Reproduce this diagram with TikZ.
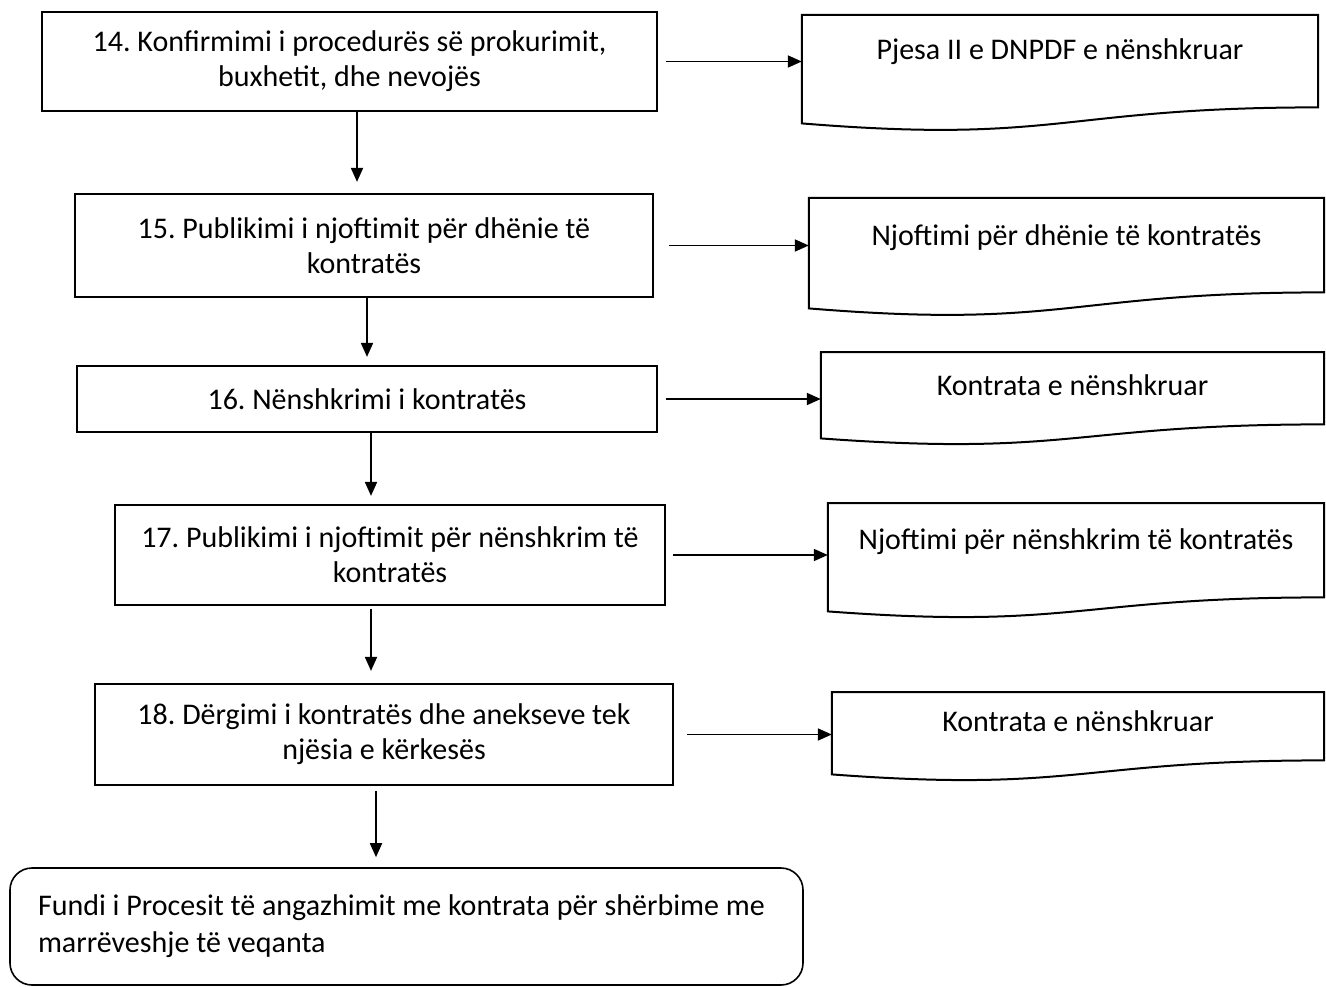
\documentclass[tikz,border=0pt]{standalone}
\usepackage{fontspec}
\setmainfont{Carlito}
\usetikzlibrary{arrows.meta,calc}

% outline of a document symbol around node #1; #2 = rise of the right end of the wavy base
\newcommand\docoutline[2]{%
  \draw[docline] (#1.north west) -- (#1.north east)
    -- ($(#1.south east)+(0,-#2)$)
    .. controls ($(#1.south)+(0,-#2)$) and ($(#1.south)+(0,1.316*#2)$) .. (#1.south west)
    -- cycle;}

\begin{document}
\frenchspacing
\begin{tikzpicture}[x=1pt,y=-1pt,
  every node/.style={font=\fontsize{30}{35}\selectfont, inner sep=0pt},
  stepbox/.style={draw, line width=2.2pt, align=center},
  docline/.style={line width=2pt, line join=miter},
  arr/.style={line width=1.8pt, -{Triangle[length=14pt,width=12pt]}},
  endbox/.style={draw, line width=1.6pt, rounded corners=22pt, align=flush left,
                 text width=737pt, inner xsep=28pt, font=\fontsize{30}{37}\selectfont}]
\useasboundingbox (0,0) rectangle (1326,987);

% process steps
\node[stepbox, minimum width=615pt, minimum height=99pt] (b14) at (349.5,61.5)
  {14. Konfirmimi i procedurës së prokurimit,\\ buxhetit, dhe nevojës};
\node[stepbox, minimum width=578pt, minimum height=103pt] (b15) at (364,245.5)
  {15. Publikimi i njoftimit për dhënie të\\ kontratës};
\node[stepbox, minimum width=580pt, minimum height=66pt] (b16) at (367,399)
  {16. Nënshkrimi i kontratës};
\node[stepbox, minimum width=550pt, minimum height=100pt] (b17) at (390,555)
  {17. Publikimi i njoftimit për nënshkrim të\\ kontratës};
\node[stepbox, minimum width=578pt, minimum height=101pt] (b18) at (384,734.5)
  {18. Dërgimi i kontratës dhe anekseve tek\\ njësia e kërkesës};
\node[endbox, minimum height=117pt] (end) at (406.5,926.5)
  {Fundi i Procesit të angazhimit me kontrata për shërbime me\\ marrëveshje të veqanta};

% output documents (text sits near the top edge)
\node[minimum width=516pt, text height=44pt, text depth=64pt] (d1) at (1060,15) [anchor=north]
  {Pjesa II e DNPDF e nënshkruar};
\node[minimum width=515pt, text height=47pt, text depth=63pt] (d2) at (1066.5,198) [anchor=north]
  {Njoftimi për dhënie të kontratës};
\node[minimum width=503pt, text height=43pt, text depth=43pt] (d3) at (1072.5,352) [anchor=north]
  {Kontrata e nënshkruar};
\node[minimum width=496pt, text height=46pt, text depth=62pt] (d4) at (1076,503) [anchor=north]
  {Njoftimi për nënshkrim të kontratës};
\node[minimum width=492pt, text height=39pt, text depth=43pt] (d5) at (1078,692) [anchor=north]
  {Kontrata e nënshkruar};

\docoutline{d1}{16}
\docoutline{d2}{16}
\docoutline{d3}{14}
\docoutline{d4}{14}
\docoutline{d5}{14}

% step to document
\draw[arr] ([xshift=8pt]b14.east) -- (b14.east -| d1.west);
\draw[arr] ([xshift=15pt]b15.east) -- (b15.east -| d2.west);
\draw[arr] ([xshift=8pt]b16.east) -- (b16.east -| d3.west);
\draw[arr] ([xshift=7pt]b17.east) -- (b17.east -| d4.west);
\draw[arr] ([xshift=13pt]b18.east) -- (b18.east -| d5.west);

% step to step
\draw[arr, shorten >=11pt] (357,0 |- b14.south) -- (357,0 |- b15.north);
\draw[arr, shorten >=8pt]  (367,0 |- b15.south) -- (367,0 |- b16.north);
\draw[arr, shorten >=8pt]  (371,0 |- b16.south) -- (371,0 |- b17.north);
\draw[arr, shorten >=12pt, shorten <=3pt] (371,0 |- b17.south) -- (371,0 |- b18.north);
\draw[arr, shorten >=10pt, shorten <=5pt] (376,0 |- b18.south) -- (376,0 |- end.north);
\end{tikzpicture}
\end{document}
